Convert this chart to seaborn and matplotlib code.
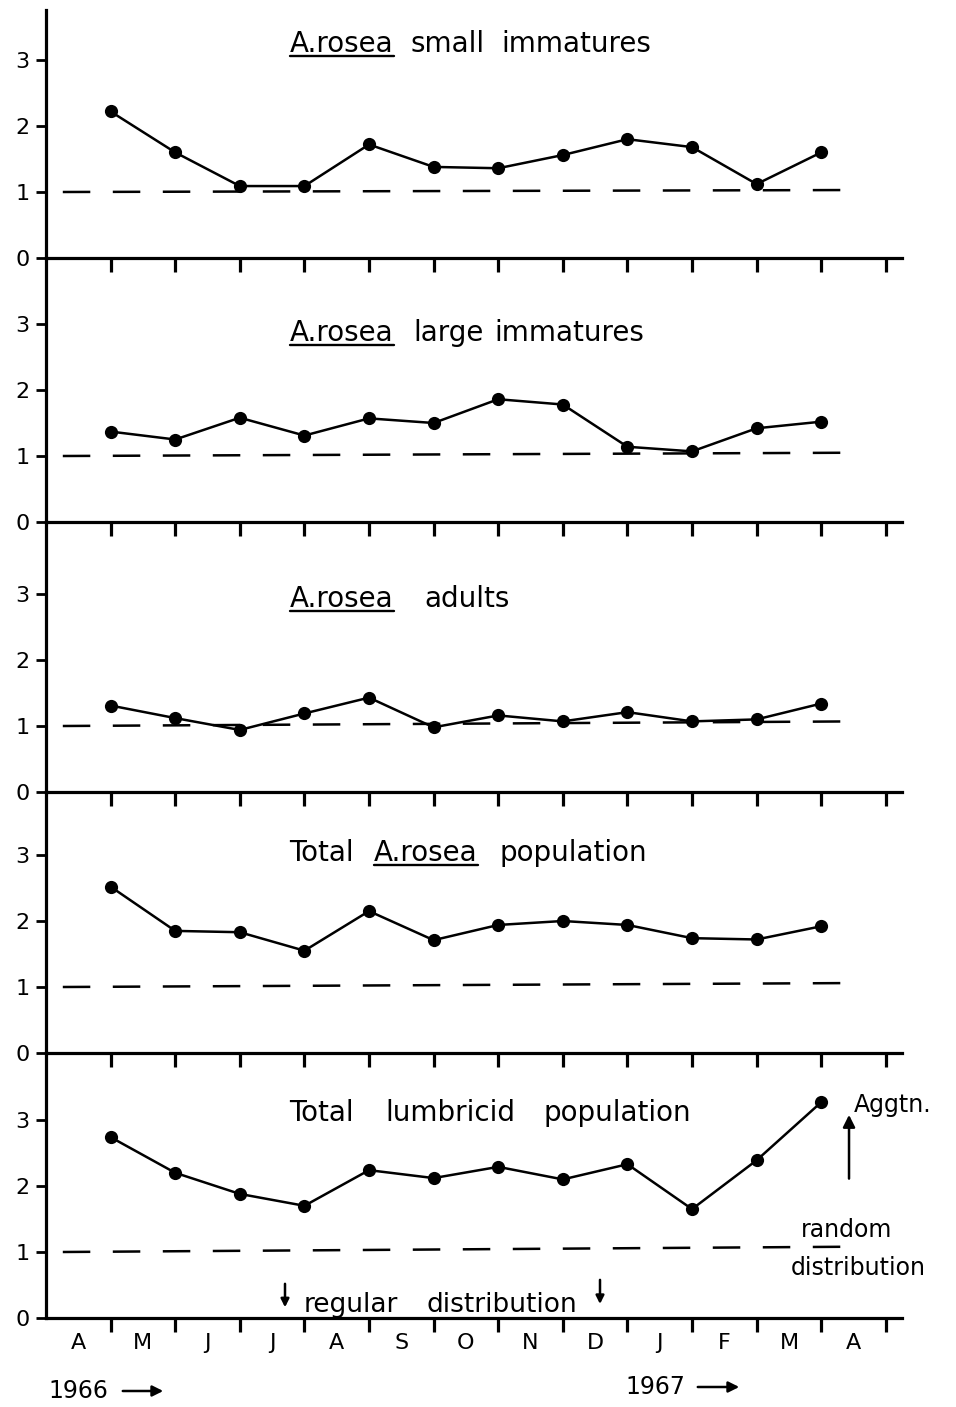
import numpy as np
import pandas as pd
import matplotlib
matplotlib.use("Agg")
import matplotlib.pyplot as plt
from matplotlib.lines import Line2D
from matplotlib.patches import FancyArrowPatch
import seaborn as sns

# ---------------- data ----------------
months = ["A", "M", "J", "J", "A", "S", "O", "N", "D", "J", "F", "M", "A"]
sample_pos = [1, 2, 3, 4, 5, 6, 7, 8, 9, 10, 11, 12]

small_immatures = [2.22, 1.60, 1.09, 1.09, 1.72, 1.38, 1.36, 1.56, 1.80, 1.68, 1.12, 1.60]
large_immatures = [1.37, 1.25, 1.58, 1.31, 1.57, 1.50, 1.86, 1.78, 1.14, 1.07, 1.42, 1.52]
adults = [1.31, 1.12, 0.94, 1.19, 1.43, 0.98, 1.16, 1.07, 1.21, 1.07, 1.10, 1.34]
total_rosea = [2.52, 1.85, 1.83, 1.55, 2.15, 1.71, 1.94, 2.00, 1.94, 1.74, 1.72, 1.92]
total_lumbricid = [2.74, 2.20, 1.88, 1.70, 2.24, 2.12, 2.29, 2.10, 2.33, 1.65, 2.39, 3.27]

series = [small_immatures, large_immatures, adults, total_rosea, total_lumbricid]

# title words: (text, underlined)
title_words = [[("A.rosea", True), ("small", False), ("immatures", False)],
               [("A.rosea", True), ("large", False), ("immatures", False)],
               [("A.rosea", True), ("adults", False)],
               [("Total", False), ("A.rosea", True), ("population", False)],
               [("Total", False), ("lumbricid", False), ("population", False)]]
# layout: centre pixel of each word, baseline in data units
title_word_px = [[342, 448, 576], [342, 449, 569], [342, 467], [321, 426, 573], [321, 450, 617]]
title_baseline = [3.12, 2.74, 2.80, 2.91, 2.98]
random_line = [(1.0, 1.03), (1.0, 1.05), (1.0, 1.07), (1.0, 1.06), (1.0, 1.08)]
random_x = [(0.26, 12.55), (0.26, 12.55), (0.26, 12.55), (0.26, 12.55), (0.26, 12.45)]

# ---------------- layout ----------------
sns.set_theme(style="white")
plt.rcParams['font.family'] = ['DejaVu Sans']
plt.rcParams['text.color'] = 'black'
plt.rcParams['xtick.labelcolor'] = 'black'
plt.rcParams['ytick.labelcolor'] = 'black'
W, H = 956, 1407
fig = plt.figure(figsize=(W / 100, H / 100), dpi=100)

left_px, right_px = 46, 902
bottoms_px = [258, 522, 792, 1053, 1318]
tops_px = [10, 258, 522, 792, 1053]
px_per_unit = 66.0
xmax = 13.25
x_px_per_unit = (right_px - left_px) / xmax


def px2x(px):
    return (px - left_px) / x_px_per_unit


axes = []
for i in range(5):
    b, t = bottoms_px[i], tops_px[i]
    ax = fig.add_axes([left_px / W, 1 - b / H, (right_px - left_px) / W, (b - t) / H])
    ax.set_facecolor('none')
    axes.append(ax)

for i, ax in enumerate(axes):
    df = pd.DataFrame({"pos": sample_pos, "val": series[i]})
    sns.lineplot(data=df, x="pos", y="val", ax=ax, color="black", lw=1.8,
                 marker="o", markersize=9.5, markeredgewidth=0, zorder=3)
    ax.plot(random_x[i], random_line[i], color="black", lw=1.8,
            ls=(0, (11, 9)), zorder=2)
    b, t = bottoms_px[i], tops_px[i]
    ax.set_xlim(0, xmax)
    ax.set_ylim(0, (b - t) / px_per_unit)
    ax.set_xlabel("")
    ax.set_ylabel("")
    for s in ["top", "right"]:
        ax.spines[s].set_visible(False)
    for s in ["left", "bottom"]:
        ax.spines[s].set_linewidth(2.3)
        ax.spines[s].set_color("black")
    ax.set_yticks([0, 1, 2, 3])
    ax.set_yticklabels(["0", "1", "2", "3"])
    ax.set_xticks(range(1, 14))
    ax.tick_params(axis="y", direction="out", length=7, width=2, pad=5,
                   labelsize=16, color="black", left=True)
    ax.tick_params(axis="x", which="major", direction="out", length=10, width=2.3,
                   color="black", bottom=True, labelbottom=False)
    if i == 4:
        ax.set_xticks([k + 0.5 for k in range(13)], minor=True)
        ax.set_xticklabels(months, minor=True)
        ax.tick_params(axis="x", which="minor", length=0, pad=11, labelsize=16,
                       labelbottom=True)

fig.canvas.draw()
renderer = fig.canvas.get_renderer()

# titles with underlined genus
fs = 20
for i, ax in enumerate(axes):
    y = title_baseline[i]
    for (word, und), xp in zip(title_words[i], title_word_px[i]):
        x = px2x(xp)
        t = ax.text(x, y, word, fontsize=fs, va="baseline", ha="center")
        if und:
            fig.canvas.draw()
            bb = t.get_window_extent(renderer)
            base_px = ax.transData.transform((x, y))[1]
            yline = base_px - 4
            fig.add_artist(Line2D([bb.x0 / W, bb.x1 / W], [yline / H, yline / H],
                                  color="black", lw=1.7, transform=fig.transFigure))

# annotations in the bottom panel
ax = axes[4]
ax.text(12.5, 3.23, "Aggtn.", fontsize=17, ha="left", va="center")
ax.annotate("", xy=(12.43, 3.12), xytext=(12.43, 2.07),
            arrowprops=dict(arrowstyle="-|>", lw=1.8, color="black", mutation_scale=18))
ax.text(11.68, 1.33, "random", fontsize=17, ha="left", va="center")
ax.text(11.53, 0.76, "distribution", fontsize=17, ha="left", va="center")
ax.text(px2x(351), 0.2, "regular", fontsize=19, ha="center", va="center")
ax.text(px2x(502), 0.2, "distribution", fontsize=19, ha="center", va="center")
ax.annotate("", xy=(px2x(285), 0.12), xytext=(px2x(285), 0.56),
            arrowprops=dict(arrowstyle="-|>", lw=1.8, color="black", mutation_scale=12))
ax.annotate("", xy=(px2x(600), 0.17), xytext=(px2x(600), 0.62),
            arrowprops=dict(arrowstyle="-|>", lw=1.8, color="black", mutation_scale=12))

# year labels
fig.text(48 / W, 1 - 1391 / H, "1966", fontsize=17, ha="left", va="center")
fig.add_artist(FancyArrowPatch((120 / W, 1 - 1391 / H), (166 / W, 1 - 1391 / H),
                               transform=fig.transFigure, arrowstyle="-|>",
                               mutation_scale=16, lw=1.8, color="black"))
fig.text(625 / W, 1 - 1387 / H, "1967", fontsize=17, ha="left", va="center")
fig.add_artist(FancyArrowPatch((695 / W, 1 - 1387 / H), (742 / W, 1 - 1387 / H),
                               transform=fig.transFigure, arrowstyle="-|>",
                               mutation_scale=16, lw=1.8, color="black"))

fig.savefig("out.png", dpi=100)
